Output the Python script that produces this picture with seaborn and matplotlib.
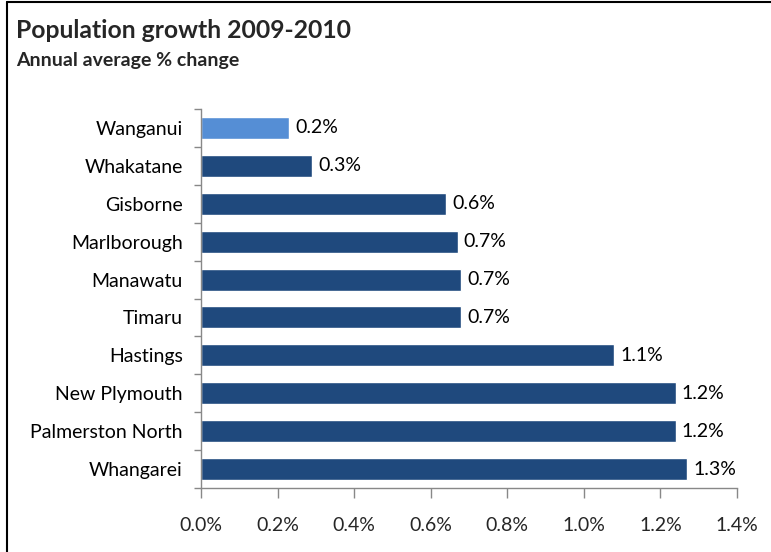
import matplotlib
matplotlib.use("Agg")
import matplotlib.pyplot as plt
from matplotlib.lines import Line2D
from matplotlib.ticker import FuncFormatter, FixedLocator
import seaborn as sns
import pandas as pd

# Annual average population change, 2009-2010 (%)
districts = ["Wanganui", "Whakatane", "Gisborne", "Marlborough", "Manawatu",
             "Timaru", "Hastings", "New Plymouth", "Palmerston North", "Whangarei"]
growth = [0.23, 0.29, 0.64, 0.67, 0.68, 0.68, 1.08, 1.24, 1.24, 1.27]
bar_colors = ["#558ED5"] + ["#1F497D"] * 9
x_ticks = [0.0, 0.2, 0.4, 0.6, 0.8, 1.0, 1.2, 1.4]

df = pd.DataFrame({"district": districts, "growth": growth})

sns.set_style("white")
plt.rcParams["font.family"] = ["Lato", "DejaVu Sans"]

fig = plt.figure(figsize=(7.71, 5.52), dpi=100)
ax = fig.add_axes([201 / 771, 1 - 488 / 552, 536 / 771, (488 - 109) / 552])

sns.barplot(data=df, y="district", x="growth", hue="district",
            palette=bar_colors, legend=False, width=0.58, orient="h",
            saturation=1, ax=ax)

ax.set_xlim(0, 1.4)
ax.set_ylim(len(districts) - 0.5, -0.5)
ax.xaxis.set_major_locator(FixedLocator(x_ticks))
ax.xaxis.set_major_formatter(FuncFormatter(lambda v, _: f"{v:.1f}%"))
ax.set_xlabel("")
ax.set_ylabel("")

# category ticks sit between bars, as in spreadsheet charts
ax.set_yticks(range(len(districts)))
ax.set_yticks([i - 0.5 for i in range(len(districts) + 1)], minor=True)
ax.tick_params(axis="y", which="major", length=0, pad=13, labelsize=14,
               colors="black")
ax.tick_params(axis="y", which="minor", length=5, width=1, color="#888888",
               direction="out", left=True)
ax.tick_params(axis="x", which="major", length=7, width=1, color="#888888",
               direction="out", bottom=True, pad=14, labelsize=14)

for side in ["top", "right"]:
    ax.spines[side].set_visible(False)
for side in ["left", "bottom"]:
    ax.spines[side].set_visible(True)
    ax.spines[side].set_color("#888888")
    ax.spines[side].set_linewidth(1)

for i, v in enumerate(growth):
    ax.text(v + 0.016, i, f"{v:.1f}%", va="center", ha="left",
            fontsize=14, color="black")

fig.text(16 / 771, 1 - 38 / 552, "Population growth 2009-2010",
         fontsize=17.8, fontweight="bold", ha="left", va="baseline")
fig.text(16 / 771, 1 - 66 / 552, "Annual average % change",
         fontsize=14, fontweight="bold", ha="left", va="baseline")

# chart frame (left and top edges)
fig.add_artist(Line2D([6.5 / 771, 6.5 / 771], [0, 1 - 2 / 552],
                      transform=fig.transFigure, color="black", lw=1.5))
fig.add_artist(Line2D([6.5 / 771, 1], [1 - 2 / 552, 1 - 2 / 552],
                      transform=fig.transFigure, color="black", lw=1.5))

fig.savefig("out.png", dpi=100, facecolor="white")
